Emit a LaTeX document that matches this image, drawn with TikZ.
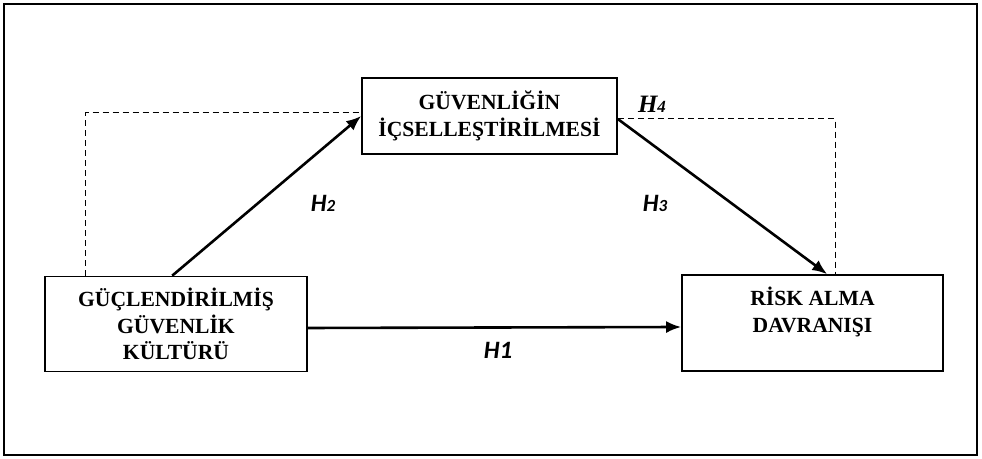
\documentclass[tikz,border=0pt]{standalone}
\usepackage{fontspec}
\setmainfont{Liberation Serif}
\newfontfamily\hlabelfont{Carlito}
\usetikzlibrary{arrows.meta,calc}

\tikzset{
    varbox/.style={draw, line width=0.8pt, inner sep=0pt, align=center,
        font=\bfseries\fontsize{10.8}{13.2}\selectfont},
    hpath/.style={line width=1.3pt, -{Latex[length=7.5pt,width=6pt]}},
    hdash/.style={line width=0.5pt, dash pattern=on 3pt off 2pt},
    hlabel/.style={font=\hlabelfont\bfseries\itshape\fontsize{12.5}{14}\selectfont}
}
\newcommand{\hsub}[1]{{\fontsize{8.5}{9}\selectfont #1}}

\begin{document}
\begin{tikzpicture}[x=0.5pt, y=-0.5pt]
        \useasboundingbox (0,0) rectangle (982,459);
        \draw[line width=0.8pt] (4,4) rectangle (977,455);

        \node[varbox, minimum width=127.5pt, minimum height=38pt] (mid) at (489.5,116)
            {GÜVENLİĞİN\\İÇSELLEŞTİRİLMESİ};
        \node[varbox, minimum width=131pt, minimum height=47.5pt] (left) at (176,324)
            {GÜÇLENDİRİLMİŞ\\GÜVENLİK\\KÜLTÜRÜ};
        \node[varbox, minimum width=130.5pt, minimum height=48pt] (right) at (812.5,323)
            {RİSK ALMA\\DAVRANIŞI\\\mbox{}};

        %\draw[red] (mid.center) circle (3);

        \draw[hdash] ($(left.north west)+(41,0)$) |- ($(mid.west)+(0,-3)$);
        \draw[hdash] ($(mid.east)+(0,3)$) -| ($(right.north west)+(154,0)$);

        \draw[hpath] ($(left.east)+(0,4)$) -- ($(left.east -| right.west)+(0,3)$);
        \draw[hpath] ($(left.north west)+(128,0)$) -- (mid.west);
        \draw[hpath] ($(mid.east)+(0,3)$) -- ($(right.north west)+(146,0)$);

        \node[hlabel] (h1) at (498,350) {H1};
        \node[hlabel] (h2) at (323,203) {H\hsub{2}};
        \node[hlabel] (h3) at (655,203) {H\hsub{3}};
        \node[font=\bfseries\itshape\fontsize{12.5}{14}\selectfont] (h4) at (652,104) {H\hsub{4}};
    \end{tikzpicture}
\end{document}
